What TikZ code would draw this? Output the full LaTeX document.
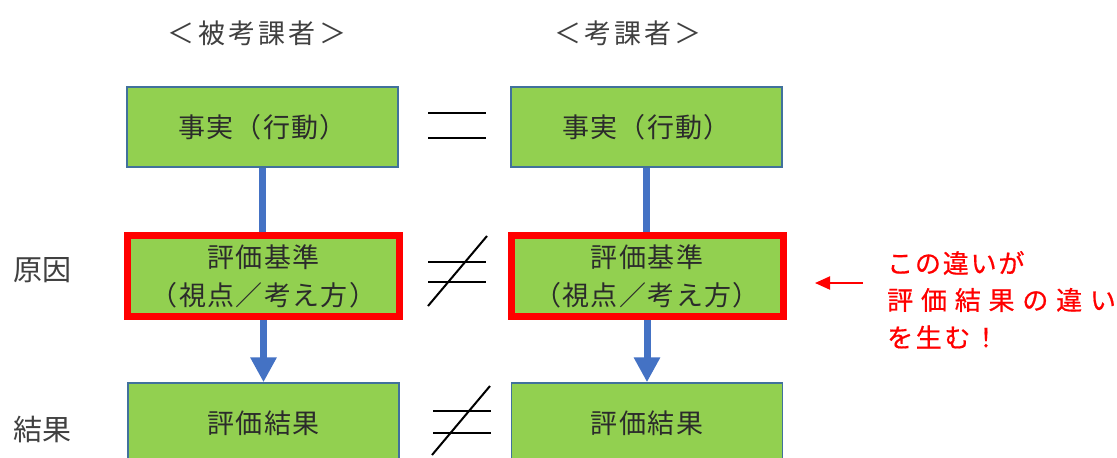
\documentclass[tikz,border=0pt]{standalone}
\usepackage{fontspec}
\usetikzlibrary{arrows.meta}
\newfontfamily\jp{Noto Sans CJK JP}
\definecolor{boxgreen}{HTML}{92D050}
\definecolor{boxborder}{HTML}{41719C}
\definecolor{connblue}{HTML}{4472C4}
\definecolor{textdark}{HTML}{2B2B2B}
\definecolor{textgray}{HTML}{404040}
\definecolor{notered}{HTML}{FF0000}
\begin{document}
\begin{tikzpicture}[x=1pt,y=-1pt,
  box/.style={draw=boxborder, line width=1.5pt, fill=boxgreen, minimum width=271pt,
    minimum height=80pt, inner sep=0pt, text=textdark, align=center,
    font=\jp\fontsize{27}{38}\selectfont\addfontfeatures{LetterSpace=5}},
  keybox/.style={box, draw=notered, line width=7pt, minimum width=272pt, minimum height=81pt},
  conn/.style={draw=connblue, line width=7pt},
  sym/.style={draw=black, line width=2pt},
  lbl/.style={inner sep=0pt, text=textgray, font=\jp\fontsize{27}{30}\selectfont\addfontfeatures{LetterSpace=12}},
  side/.style={inner sep=0pt, text=textgray, font=\jp\fontsize{29}{30}\selectfont},
  note/.style={inner sep=0pt, anchor=west, text=notered, font=\jp\fontsize{26}{30}\selectfont}]
\useasboundingbox (0,0) rectangle (1117,458);
\clip (0,0) rectangle (1117,458);

% headers
\node[lbl] (h1) at (257,33) {＜被考課者＞};
\node[lbl] (h2) at (628,33) {＜考課者＞};

% side labels
\node[side] (s1) at (42,270) {原因};
\node[side] (s2) at (42,430) {結果};

% boxes
\node[box] (f1) at (262.5,127) {事実（行動）};
\node[box] (f2) at (646.5,127) {事実（行動）};
\node[keybox] (c1) at (263.5,276) {評価基準\\（視点／考え方）};
\node[keybox] (c2) at (647,276) {評価基準\\（視点／考え方）};
\node[box] (r1) at (263.5,423) {評価結果};
\node[box] (r2) at (647,423) {評価結果};

% connectors
\draw[conn] (f1.south) -- (f1.south |- c1.north);
\draw[conn] (f2.south) -- (f2.south |- c2.north);
\draw[conn, -{Triangle[length=25pt,width=25pt]}] (c1.south) -- (c1.south |- r1.north);
\draw[conn, -{Triangle[length=25pt,width=25pt]}] (c2.south) -- (c2.south |- r2.north);

% equal sign
\draw[sym] (428,113) -- (486,113);
\draw[sym] (428,138) -- (486,138);
% not-equal signs
\draw[sym] (428,262) -- (486,262);
\draw[sym] (428,282) -- (486,282);
\draw[sym] (428,306) -- (487,236);
\draw[sym] (433,411) -- (491,411);
\draw[sym] (433,433) -- (491,433);
\draw[sym] (432,455) -- (490,386);

% note
\coordinate (ra) at (863,283);
\coordinate (rb) at (815,283);
\draw[draw=notered, line width=2pt, -{Triangle[length=15pt,width=13pt]}] (ra) -- (rb);
\node[note] (n1) at (887,263) {\addfontfeatures{LetterSpace=7,FakeBold=0.6}この違いが};
\node[note] (n2) at (887,300) {\addfontfeatures{LetterSpace=30,FakeBold=0.6}評価結果の違い};
\node[note] (n3) at (887,337) {\addfontfeatures{LetterSpace=10,FakeBold=0.6}を生む！};
\end{tikzpicture}
\end{document}
